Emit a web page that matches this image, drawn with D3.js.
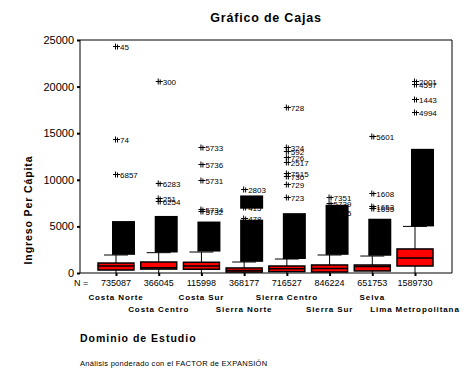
<!DOCTYPE html>
<html>
<head>
<meta charset="utf-8">
<style>
  body { margin: 0; background: #fff; }
  svg { display: block; font-family: 'Liberation Sans', Arial, sans-serif; }
  .tick-lbl { font-size: 11px; }
  .cnt { font-family: 'Liberation Sans Narrow', 'Arial Narrow', sans-serif; font-size: 9px; }
  .cat { font-size: 8px; font-weight: bold; letter-spacing: 0.9px; }
  .olab { font-family: 'Liberation Sans Narrow', 'Arial Narrow', sans-serif; font-size: 8px; }
</style>
</head>
<body>
<svg width="472" height="377"></svg>
<script src="https://d3js.org/d3.v7.min.js"></script>
<script>
// data
const categories = ["Costa Norte", "Costa Centro", "Costa Sur", "Sierra Norte",
                    "Sierra Centro", "Sierra Sur", "Selva", "Lima Metropolitana"];
const counts = [735087, 366045, 115998, 368177, 716527, 846224, 651753, 1589730];
const q1 = [320, 420, 400, 100, 150, 110, 220, 750];
const medians = [750, 560, 760, 280, 450, 480, 700, 1600];
const q3 = [1070, 1180, 1150, 540, 750, 860, 860, 2580];
const whiskerHi = [1930, 2180, 2250, 1180, 1500, 1930, 1820, 5000];
const whiskerLo = [0, 0, 0, 0, 0, 0, 0, 0];
// dense, overlapping outlier marks (value ranges)
const clusters = [
  [[1950, 5250]],
  [[2200, 5800]],
  [[2300, 5200]],
  [[1200, 5400], [6900, 8000]],
  [[1500, 6100]],
  [[1950, 7000]],
  [[1850, 5500]],
  [[5000, 13000]]
];
// labelled extreme cases [value, case id]
const extremes = [
  [[24350, "45"], [14400, "74"], [10600, "6857"]],
  [[20600, "300"], [9650, "6283"], [8050, "251"], [7750, "6254"]],
  [[13500, "5733"], [11700, "5736"], [9950, "5731"], [6900, "5734"], [6600, "5732"]],
  [[9050, "2803"], [7050, "415"], [5850, "478"]],
  [[17800, "728"], [13500, "324"], [13100, "592"], [12500, "726"], [11900, "2517"],
   [10700, "7515"], [10450, "730"], [9600, "729"], [8150, "723"]],
  [[8200, "7351"], [7500, "5739"], [6500, "3195"]],
  [[14700, "5601"], [8600, "1608"], [7150, "1653"], [6950, "1655"]],
  [[20600, "2001"], [20300, "4597"], [18700, "1443"], [17300, "4994"]]
];
const yTicks = [0, 5000, 10000, 15000, 20000, 25000];

const svg = d3.select("svg");
const pLeft = 80, pRight = 452, pTop = 40, pBottom = 273;

const x = d3.scalePoint().domain(categories).range([116, 415]);
const y = d3.scaleLinear().domain([0, 25000]).range([pBottom, pTop]);
const boxW = 36;

// title
svg.append("text").attr("x", 266).attr("y", 22).attr("text-anchor", "middle")
  .style("font-size", "12.5px").style("font-weight", "bold").style("letter-spacing", "0.8px")
  .text("Gráfico de Cajas");

// frame
svg.append("path")
  .attr("d", `M${pLeft},${pTop}H${pRight}V${pBottom}`)
  .attr("fill", "none").attr("stroke", "#000").attr("stroke-width", 1);

// y axis
const yAxis = svg.append("g").attr("transform", `translate(${pLeft},0)`)
  .call(d3.axisLeft(y).tickValues(yTicks).tickSize(3).tickPadding(3).tickFormat(d3.format("d")));
yAxis.select(".domain").attr("stroke", "#000").attr("d", `M0,${pTop}V${pBottom}`);
yAxis.selectAll(".tick line").attr("stroke-width", 2);
yAxis.selectAll(".tick text").attr("class", "tick-lbl").attr("fill", "#000");
yAxis.attr("font-family", null).attr("font-size", null);

// x axis
const xAxis = svg.append("g").attr("transform", `translate(0,${pBottom})`)
  .call(d3.axisBottom(x).tickSize(3).tickFormat(""));
xAxis.select(".domain").attr("d", `M${pLeft},0H${pRight}`).attr("stroke", "#000");
xAxis.selectAll(".tick line").attr("stroke-width", 2);

// y title
svg.append("text")
  .attr("transform", "translate(32,210) rotate(-90)")
  .attr("text-anchor", "middle")
  .style("font-size", "10.5px").style("font-weight", "bold").style("letter-spacing", "0.9px")
  .text("Ingreso Per Cápita");

const g = svg.append("g");

categories.forEach((c, i) => {
  const cx = x(c);
  // whiskers
  g.append("line").attr("x1", cx).attr("x2", cx).attr("y1", y(q3[i])).attr("y2", y(whiskerHi[i]))
    .attr("stroke", "#000");
  g.append("line").attr("x1", cx).attr("x2", cx).attr("y1", y(q1[i])).attr("y2", y(whiskerLo[i]))
    .attr("stroke", "#000");
  g.append("line").attr("x1", cx - 12).attr("x2", cx + 12)
    .attr("y1", y(whiskerHi[i])).attr("y2", y(whiskerHi[i])).attr("stroke", "#000");

  // dense outliers (overlapping marks merge into a black mass)
  clusters[i].forEach(r => {
    g.append("rect").attr("x", cx - 4).attr("width", 23)
      .attr("y", y(r[1]) - 3).attr("height", y(r[0]) - y(r[1]) + 3)
      .attr("fill", "#000");
  });

  // labelled extremes
  extremes[i].forEach(e => {
    const yy = Math.round(y(e[0])) + 0.5;
    g.append("path")
      .attr("d", `M${cx - 3},${yy}H${cx + 4}M${cx - 0.5},${yy - 3}V${yy + 3}M${cx + 1.5},${yy - 2}V${yy + 3}`)
      .attr("stroke", "#000").attr("stroke-width", 1);
    g.append("text").attr("class", "olab").attr("x", cx + 4).attr("y", yy + 3).text(e[1]);
  });

  // box
  g.append("rect").attr("x", cx - boxW / 2).attr("width", boxW)
    .attr("y", y(q3[i])).attr("height", y(q1[i]) - y(q3[i]))
    .attr("fill", "#ff0000").attr("stroke", "#000").attr("stroke-width", 1.5);
  g.append("line").attr("x1", cx - boxW / 2).attr("x2", cx + boxW / 2)
    .attr("y1", y(medians[i])).attr("y2", y(medians[i]))
    .attr("stroke", "#000").attr("stroke-width", 1.5);

  // counts
  svg.append("text").attr("class", "cnt").attr("x", cx).attr("y", 286)
    .attr("text-anchor", "middle").text(counts[i]);
  // category labels (staggered)
  svg.append("text").attr("class", "cat").attr("x", cx).attr("y", i % 2 === 0 ? 300 : 312)
    .attr("text-anchor", "middle").text(c);
});

svg.append("text").attr("class", "cnt").attr("x", 74).attr("y", 286).text("N =");

svg.append("text").attr("x", 80).attr("y", 342)
  .style("font-size", "10.5px").style("font-weight", "bold").style("letter-spacing", "1px")
  .text("Dominio de Estudio");

svg.append("text").attr("x", 80).attr("y", 366)
  .style("font-size", "7.5px").style("letter-spacing", "0.3px")
  .text("Análisis ponderado con el FACTOR de EXPANSIÓN");
</script>
</body>
</html>
